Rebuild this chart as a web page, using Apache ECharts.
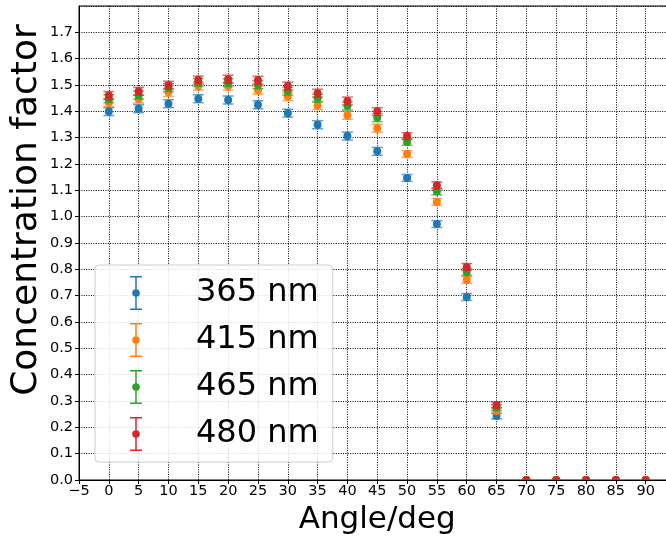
<!DOCTYPE html>
<html lang="en">
<head>
    <meta charset="UTF-8">
    <title>Concentration factor</title>
    <style>
        body, html { margin: 0; padding: 0; background: #fff; }
    </style>
</head>
<body>
<div id="main" style="width: 666px; height: 540px;"></div>
<script src="https://cdn.jsdelivr.net/npm/echarts@6/dist/echarts.min.js"></script>
<script>
    // angles (deg) and measured concentration factors
    var angles = [0, 5, 10, 15, 20, 25, 30, 35, 40, 45, 50, 55, 60, 65, 70, 75, 80, 85, 90];
    var names = ['365 nm', '415 nm', '465 nm', '480 nm'];
    var colors = ['#1f77b4', '#ff7f0e', '#2ca02c', '#d62728'];

    var cf365 = [1.399, 1.410, 1.429, 1.448, 1.443, 1.425, 1.393, 1.349, 1.306, 1.248, 1.147, 0.972, 0.695, 0.243, 0, 0, 0, 0, 0];
    var cf415 = [1.434, 1.446, 1.472, 1.496, 1.496, 1.480, 1.456, 1.422, 1.385, 1.336, 1.238, 1.056, 0.760, 0.263, 0, 0, 0, 0, 0];
    var cf465 = [1.448, 1.462, 1.490, 1.510, 1.509, 1.501, 1.477, 1.450, 1.420, 1.376, 1.284, 1.096, 0.790, 0.275, 0, 0, 0, 0, 0];
    var cf480 = [1.460, 1.476, 1.499, 1.519, 1.522, 1.518, 1.496, 1.469, 1.439, 1.399, 1.306, 1.119, 0.809, 0.285, 0, 0, 0, 0, 0];

    // error bar half-widths
    var err = [0.015, 0.015, 0.015, 0.015, 0.015, 0.015, 0.015, 0.015, 0.015, 0.015, 0.013, 0.013, 0.013, 0.011, 0, 0, 0, 0, 0];

    var values = [cf365, cf415, cf465, cf480];

    var FONT = 'DejaVu Sans';
    var errIcon = 'path://M4,0H16V1.5H10.75V32.5H16V34H4V32.5H9.25V1.5H4Z' +
        'M13.8,17A3.8,3.8,0,1,1,6.2,17A3.8,3.8,0,1,1,13.8,17Z';

    function renderErr(params, api) {
        var x = api.value(0), y = api.value(1), e = api.value(2);
        var p = api.coord([x, y]);
        var hi = api.coord([x, y + e]);
        var lo = api.coord([x, y - e]);
        var c = api.visual('color');
        var cap = 5.5;
        var kids = [];
        if (e > 0) {
            kids.push({type: 'line', shape: {x1: p[0], y1: hi[1], x2: p[0], y2: lo[1]}, style: {stroke: c, lineWidth: 1.5, opacity: 0.7}});
            kids.push({type: 'line', shape: {x1: p[0] - cap, y1: hi[1], x2: p[0] + cap, y2: hi[1]}, style: {stroke: c, lineWidth: 1.5, opacity: 0.7}});
            kids.push({type: 'line', shape: {x1: p[0] - cap, y1: lo[1], x2: p[0] + cap, y2: lo[1]}, style: {stroke: c, lineWidth: 1.5, opacity: 0.7}});
        }
        kids.push({type: 'circle', shape: {cx: p[0], cy: p[1], r: 4}, style: {fill: c}});
        return {type: 'group', children: kids};
    }

    var series = names.map(function (n, i) {
        return {
            name: n,
            type: 'custom',
            clip: true,
            renderItem: renderErr,
            encode: {x: 0, y: 1},
            itemStyle: {color: colors[i]},
            data: angles.map(function (a, k) { return [a, values[i][k], err[k]]; }),
            z: 2 + i
        };
    });

    var myChart = echarts.init(document.getElementById('main'));
    myChart.setOption({
        animation: false,
        backgroundColor: '#fff',
        textStyle: {fontFamily: FONT},
        grid: {
            left: 79, right: -9.5, top: 6, bottom: 60,
            outerBoundsMode: 'none',
            containLabel: false,
            show: true, borderColor: '#000', borderWidth: 1
        },
        legend: {
            orient: 'vertical',
            left: 95, top: 265,
            padding: [11, 14, 11, 35],
            itemWidth: 20, itemHeight: 34, itemGap: 13,
            icon: errIcon,
            backgroundColor: 'rgba(255,255,255,0.85)',
            borderColor: '#cccccc', borderWidth: 1, borderRadius: 4,
            textStyle: {fontFamily: FONT, fontSize: 32, color: '#000', padding: [0, 0, 0, 45]},
            data: names
        },
        xAxis: {
            type: 'value',
            min: -5, max: 95, interval: 5,
            name: 'Angle/deg',
            nameLocation: 'middle',
            nameGap: 24,
            nameMoveOverlap: false,
            nameTextStyle: {fontFamily: FONT, fontSize: 31, color: '#000'},
            axisLine: {show: true, onZero: false, lineStyle: {color: '#000', width: 1}},
            axisTick: {show: true, length: 4, lineStyle: {color: '#000'}},
            axisLabel: {
                fontFamily: FONT, fontSize: 14.5, color: '#000', margin: 4,
                showMaxLabel: false,
                formatter: function (v) { return v < 0 ? '\u2212' + (-v) : String(v); }
            },
            splitLine: {show: true, lineStyle: {color: '#000', width: 1, type: [1, 1.4]}}
        },
        yAxis: {
            type: 'value',
            min: 0, max: 1.8, interval: 0.1,
            name: 'Concentration factor',
            nameLocation: 'middle',
            nameGap: 34,
            nameMoveOverlap: false,
            nameTextStyle: {fontFamily: FONT, fontSize: 36, color: '#000', padding: [0, 0, 0, 66]},
            axisLine: {show: true, onZero: false, lineStyle: {color: '#000', width: 1}},
            axisTick: {show: true, length: 4, lineStyle: {color: '#000'}},
            axisLabel: {
                fontFamily: FONT, fontSize: 14.5, color: '#000', margin: 6,
                showMaxLabel: false,
                formatter: function (v) { return v.toFixed(1); }
            },
            splitLine: {show: true, lineStyle: {color: '#000', width: 1, type: [1, 1.4]}}
        },
        series: series
    });
</script>
</body>
</html>
